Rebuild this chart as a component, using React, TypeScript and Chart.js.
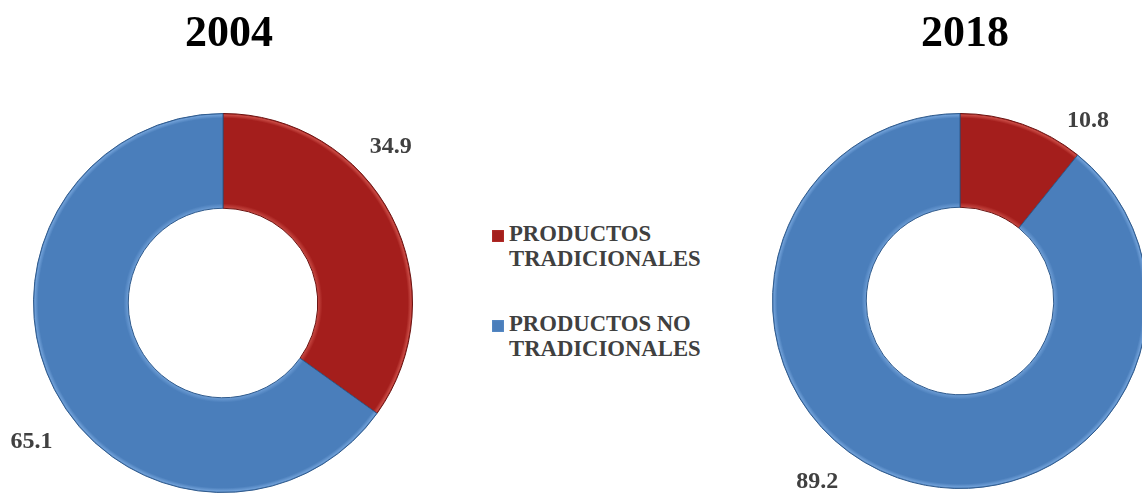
import React, { useEffect, useRef } from "react";
import { Chart, registerables } from "chart.js";

Chart.register(...registerables);

const categories = ["PRODUCTOS TRADICIONALES", "PRODUCTOS NO TRADICIONALES"];
const years = ["2004", "2018"];
const values2004 = [34.9, 65.1];
const values2018 = [10.8, 89.2];
const colors = ["#A41E1C", "#4A7EBB"];
const edgeColors = ["#C84A44", "#6E9ED6"];

const FONT = "'Liberation Serif', 'Times New Roman', serif";

type TextOpts = {
  title: string;
  titleDx: number;
  titleY: number;
  angleShift: number[];
  radiusFactor: number[];
};

const textPlugin = {
  id: "donutTexts",
  afterDraw(chart: any, _args: any, opts: TextOpts) {
    const { ctx } = chart;
    const meta = chart.getDatasetMeta(0);
    const ds = chart.data.datasets[0];
    if (!meta.data.length) return;
    const first: any = meta.data[0];
    const cx = first.x;
    const cy = first.y;
    ctx.save();
    ctx.textAlign = "center";
    ctx.textBaseline = "middle";
    ctx.fillStyle = "#000000";
    ctx.font = `bold 44px ${FONT}`;
    ctx.fillText(opts.title, cx + opts.titleDx, opts.titleY);
    ctx.font = `bold 24px ${FONT}`;
    ctx.fillStyle = "#404040";
    meta.data.forEach((arc: any, i: number) => {
      const mid = (arc.startAngle + arc.endAngle) / 2 + (opts.angleShift[i] * Math.PI) / 180;
      const r = arc.outerRadius * opts.radiusFactor[i];
      ctx.fillText(Number(ds.data[i]).toFixed(1), cx + Math.cos(mid) * r, cy + Math.sin(mid) * r);
    });
    ctx.restore();
  },
};

function fill(c: any) {
  const i = c.dataIndex ?? 0;
  const chart = c.chart;
  const area = chart.chartArea;
  if (!area) return colors[i];
  const cx = (area.left + area.right) / 2;
  const cy = (area.top + area.bottom) / 2;
  const outer = Math.min(area.right - area.left, area.bottom - area.top) / 2 - 0.5;
  const inner = outer * 0.5;
  const g = chart.ctx.createRadialGradient(cx, cy, inner, cx, cy, outer);
  g.addColorStop(0, edgeColors[i]);
  g.addColorStop(0.05, colors[i]);
  g.addColorStop(0.95, colors[i]);
  g.addColorStop(0.985, edgeColors[i]);
  g.addColorStop(1, colors[i]);
  return g;
}

function Donut(props: {
  values: number[];
  title: string;
  padding: { left: number; right: number; top: number; bottom: number };
  width: number;
  height: number;
  left: number;
  textOpts: Omit<TextOpts, "title">;
}) {
  const ref = useRef<HTMLCanvasElement>(null);
  useEffect(() => {
    if (!ref.current) return;
    const chart = new Chart(ref.current, {
      type: "doughnut",
      data: {
        labels: categories,
        datasets: [
          {
            data: props.values,
            backgroundColor: fill as any,
            borderColor: ["#6B1210", "#2F5A8C"],
            borderWidth: 1,
            hoverOffset: 0,
          },
        ],
      },
      options: {
        responsive: false,
        animation: false,
        cutout: "50%",
        layout: { padding: props.padding },
        plugins: {
          legend: { display: false },
          tooltip: { enabled: false },
          donutTexts: { title: props.title, ...props.textOpts },
        } as any,
      },
      plugins: [textPlugin as any],
    });
    return () => chart.destroy();
  }, []);
  return (
    <canvas
      ref={ref}
      width={props.width}
      height={props.height}
      style={{ position: "absolute", left: props.left, top: 0, width: props.width, height: props.height }}
    />
  );
}

export default function App() {
  return (
    <div
      style={{
        position: "absolute",
        left: 0,
        top: 0,
        width: 1142,
        height: 494,
        overflow: "hidden",
        background: "#ffffff",
      }}
    >
      <Donut
        values={values2004}
        title={years[0]}
        left={0}
        width={446}
        height={494}
        padding={{ left: 33, right: 33, top: 113, bottom: 1 }}
        textOpts={{ titleDx: 6, titleY: 35, angleShift: [-15.8, -8.7], radiusFactor: [1.21, 1.247] }}
      />
      <Donut
        values={values2018}
        title={years[1]}
        left={740}
        width={440}
        height={494}
        padding={{ left: 32, right: 32, top: 113, bottom: 5 }}
        textOpts={{ titleDx: 5, titleY: 35, angleShift: [15.9, 18.8], radiusFactor: [1.18, 1.23] }}
      />
      {categories.map((cat, i) => (
        <div
          key={cat}
          style={{
            position: "absolute",
            left: 509,
            top: i === 0 ? 221 : 311,
            width: 205,
            font: `bold 22.7px ${FONT}`,
            lineHeight: "25px",
            color: "#404040",
          }}
        >
          <div
            style={{
              position: "absolute",
              left: -17,
              top: 9,
              width: 12,
              height: 12,
              background: colors[i],
              boxShadow: `inset 0 0 2px ${edgeColors[i]}`,
            }}
          />
          {cat}
        </div>
      ))}
    </div>
  );
}
